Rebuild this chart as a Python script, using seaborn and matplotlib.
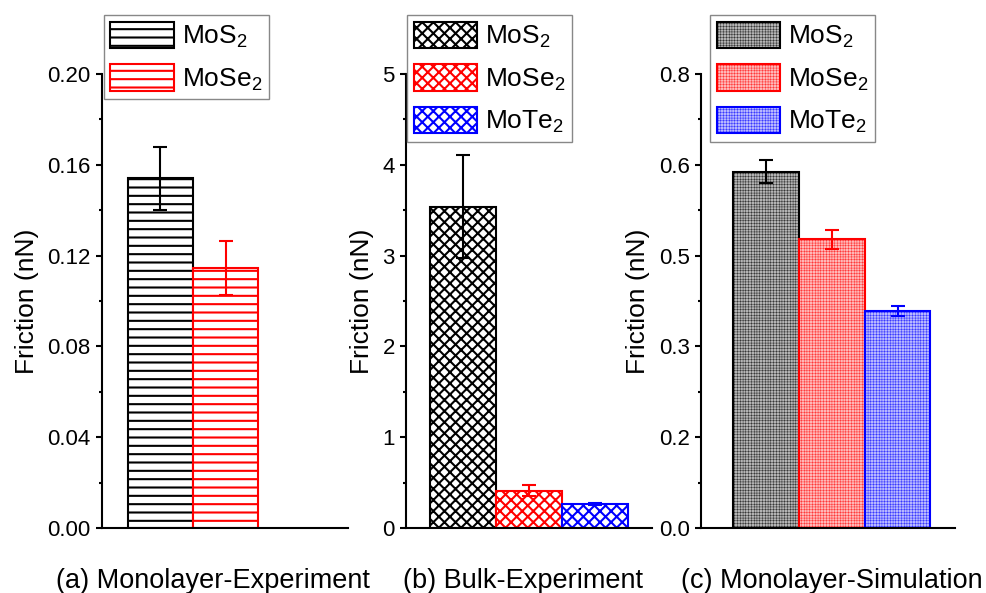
import pandas as pd
import matplotlib.pyplot as plt
import matplotlib.ticker as mticker
import seaborn as sns

materials = ["MoS$_2$", "MoSe$_2$", "MoTe$_2$"]

mono_exp = [0.154, 0.1145]
mono_exp_err = [0.014, 0.012]

bulk_exp = [3.54, 0.41, 0.26]
bulk_exp_err = [0.57, 0.06, 0.012]

mono_sim = [0.628, 0.509, 0.383]
mono_sim_err = [0.020, 0.017, 0.009]

panel_titles = ["(a) Monolayer-Experiment", "(b) Bulk-Experiment", "(c) Monolayer-Simulation"]

edge_colors = ["black", "red", "blue"]
sim_faces = ["#b4b4b4", "#ffb8b8", "#b8b8ff"]

sns.set_theme(style="ticks")
plt.rcParams["font.family"] = ["Liberation Sans", "DejaVu Sans"]
plt.rcParams["mathtext.fontset"] = "custom"
plt.rcParams["mathtext.rm"] = "Liberation Sans"
plt.rcParams["mathtext.it"] = "Liberation Sans:italic"
for key in ["text.color", "axes.labelcolor", "xtick.color", "ytick.color", "axes.edgecolor"]:
    plt.rcParams[key] = "black"


def draw_panel(ax, values, errs, hatch, title, ymax, major, minor, fmt, faces=None, hatch_lw=1.5):
    names = materials[:len(values)]
    df = pd.DataFrame({"material": names, "friction": values})
    plt.rcParams["hatch.linewidth"] = hatch_lw
    sns.barplot(data=df, x="material", y="friction", order=names, width=1,
                errorbar=None, ax=ax)
    for i, p in enumerate(ax.patches):
        p.set_facecolor(faces[i] if faces else "white")
        p.set_edgecolor(edge_colors[i])
        p.set_linewidth(1.5)
        p.set_hatch(hatch)
        if hasattr(p, "set_hatch_linewidth"):
            p.set_hatch_linewidth(hatch_lw)
    for i in range(len(values)):
        ax.errorbar(i, values[i], yerr=errs[i], fmt="none", ecolor=edge_colors[i],
                    elinewidth=1.5, capsize=5, capthick=1.5, zorder=5)

    ax.set_ylim(0, ymax)
    ax.yaxis.set_major_locator(mticker.MultipleLocator(major))
    ax.yaxis.set_minor_locator(mticker.MultipleLocator(minor))
    ax.yaxis.set_major_formatter(mticker.FormatStrFormatter(fmt))
    ax.set_xticks([])
    ax.tick_params(axis="y", which="major", length=4.5, width=1.5, labelsize=16, direction="out")
    ax.tick_params(axis="y", which="minor", length=2.5, width=1.5, direction="out")
    for s in ["top", "right"]:
        ax.spines[s].set_visible(False)
    for s in ["left", "bottom"]:
        ax.spines[s].set_linewidth(1.5)
    ax.set_ylabel("Friction (nN)", fontsize=19, labelpad=6)
    ax.set_xlabel(title, fontsize=19.5, labelpad=29)

    leg = ax.legend(handles=ax.patches[:len(values)], labels=names, loc="upper left",
                    fontsize=19, frameon=True, fancybox=False, framealpha=1,
                    edgecolor="#888888", borderpad=0.25, borderaxespad=0,
                    handlelength=2.4, handleheight=1.15, handletextpad=0.3,
                    labelspacing=0.55)
    leg.get_frame().set_linewidth(1)
    return leg


fig = plt.figure(figsize=(9.87, 5.93), dpi=100)
ax_a = fig.add_axes([0.103, 0.1096, 0.2496, 0.7656])
ax_b = fig.add_axes([0.4113, 0.1096, 0.2492, 0.7656])
ax_c = fig.add_axes([0.7099, 0.1096, 0.2574, 0.7656])

leg = draw_panel(ax_a, mono_exp, mono_exp_err, "--", panel_titles[0], 0.20, 0.04, 0.02, "%.2f")
leg.set_bbox_to_anchor((0.009, 1.13), transform=ax_a.transAxes)
ax_a.set_xlim(-0.9, 2.87)
ax_a.xaxis.label.set_x(0.45)

leg = draw_panel(ax_b, bulk_exp, bulk_exp_err, "xxx", panel_titles[1], 5, 1, 0.5, "%d")
leg.set_bbox_to_anchor((0.004, 1.13), transform=ax_b.transAxes)
ax_b.set_xlim(-0.86, 2.86)
ax_b.xaxis.label.set_x(0.476)

leg = draw_panel(ax_c, mono_sim, mono_sim_err, "++++++", panel_titles[2], 0.8, 0.16, 0.08, "%.1f",
                 faces=sim_faces, hatch_lw=0.25)
leg.set_bbox_to_anchor((0.037, 1.13), transform=ax_c.transAxes)
ax_c.set_xlim(-1.0, 2.87)
ax_c.xaxis.label.set_x(0.515)

fig.savefig("out.png", dpi=100)
